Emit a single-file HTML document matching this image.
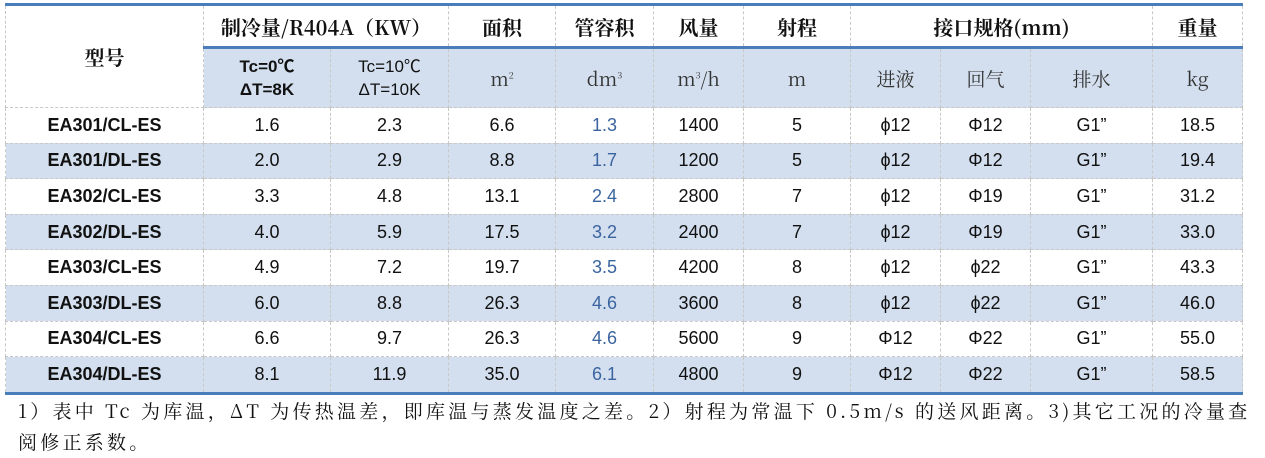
<!DOCTYPE html>
<html><head><meta charset="utf-8"><style>
body{margin:0;width:1265px;height:458px;background:#fff;overflow:hidden;position:relative;font-family:"Liberation Sans","Noto Sans CJK SC",sans-serif}
table{position:absolute;left:5px;top:3px;border-collapse:collapse;table-layout:fixed;width:1237px}
td{border:1px dashed #c8c8c8;text-align:center;padding:0;font-size:18px;color:#111;white-space:nowrap}
tr.h1 td{height:40px;font-family:"Noto Serif CJK SC",serif;font-weight:bold;font-size:20px;border-top:3px solid #4a7ebb}
tr.h2 td{height:58px;background:#d3dfee;border-top:3px solid #4a7ebb;font-family:"Noto Serif CJK SC",serif;font-size:19px;color:#333}
tr.h2 td.s{font-family:"Liberation Sans","Noto Sans CJK SC",sans-serif;font-size:17px;line-height:23px;color:#111}
tr.d td{height:34.6px}
tr.d:nth-child(even) td{background:#d3dfee}
tr.d td:first-child{font-weight:bold}
tr.last td{border-bottom:3px solid #4a7ebb}
td.b{color:#3a64a0}
td.m{font-family:"Noto Serif CJK SC",serif;font-weight:bold;font-size:21px;border-top:3px solid #4a7ebb}
sup{font-size:9px}
.note{position:absolute;left:18px;top:395px;width:1260px;font-family:"Noto Serif CJK SC","Liberation Serif",serif;font-size:19px;letter-spacing:3.25px;line-height:31px;color:#111;white-space:nowrap}
</style></head><body>
<table>
<colgroup><col style="width:198px"><col style="width:127px"><col style="width:118px"><col style="width:107px"><col style="width:98px"><col style="width:90px"><col style="width:107px"><col style="width:90px"><col style="width:90px"><col style="width:122px"><col style="width:90px"></colgroup>
<tr class="h1"><td rowspan="2" class="m">型号</td><td colspan="2">制冷量/R404A（KW）</td><td>面积</td><td>管容积</td><td>风量</td><td>射程</td><td colspan="3">接口规格(mm)</td><td>重量</td></tr>
<tr class="h2"><td class="s"><b>Tc=0℃<br>ΔT=8K</b></td><td class="s">Tc=10℃<br>ΔT=10K</td><td>m<sup>2</sup></td><td>dm<sup>3</sup></td><td>m<sup>3</sup>/h</td><td>m</td><td>进液</td><td>回气</td><td>排水</td><td>kg</td></tr>
<tr class="d"><td>EA301/CL-ES</td><td>1.6</td><td>2.3</td><td>6.6</td><td class="b">1.3</td><td>1400</td><td>5</td><td>ϕ12</td><td>Φ12</td><td>G1”</td><td>18.5</td></tr>
<tr class="d"><td>EA301/DL-ES</td><td>2.0</td><td>2.9</td><td>8.8</td><td class="b">1.7</td><td>1200</td><td>5</td><td>ϕ12</td><td>Φ12</td><td>G1”</td><td>19.4</td></tr>
<tr class="d"><td>EA302/CL-ES</td><td>3.3</td><td>4.8</td><td>13.1</td><td class="b">2.4</td><td>2800</td><td>7</td><td>ϕ12</td><td>Φ19</td><td>G1”</td><td>31.2</td></tr>
<tr class="d"><td>EA302/DL-ES</td><td>4.0</td><td>5.9</td><td>17.5</td><td class="b">3.2</td><td>2400</td><td>7</td><td>ϕ12</td><td>Φ19</td><td>G1”</td><td>33.0</td></tr>
<tr class="d"><td>EA303/CL-ES</td><td>4.9</td><td>7.2</td><td>19.7</td><td class="b">3.5</td><td>4200</td><td>8</td><td>ϕ12</td><td>ϕ22</td><td>G1”</td><td>43.3</td></tr>
<tr class="d"><td>EA303/DL-ES</td><td>6.0</td><td>8.8</td><td>26.3</td><td class="b">4.6</td><td>3600</td><td>8</td><td>ϕ12</td><td>ϕ22</td><td>G1”</td><td>46.0</td></tr>
<tr class="d"><td>EA304/CL-ES</td><td>6.6</td><td>9.7</td><td>26.3</td><td class="b">4.6</td><td>5600</td><td>9</td><td>Φ12</td><td>Φ22</td><td>G1”</td><td>55.0</td></tr>
<tr class="d last"><td>EA304/DL-ES</td><td>8.1</td><td>11.9</td><td>35.0</td><td class="b">6.1</td><td>4800</td><td>9</td><td>Φ12</td><td>Φ22</td><td>G1”</td><td>58.5</td></tr>
</table>
<div class="note">1）表中 Tc 为库温，ΔT 为传热温差，即库温与蒸发温度之差。2）射程为常温下 0.5m/s 的送风距离。3)其它工况的冷量查<br>阅修正系数。</div>
</body></html>
